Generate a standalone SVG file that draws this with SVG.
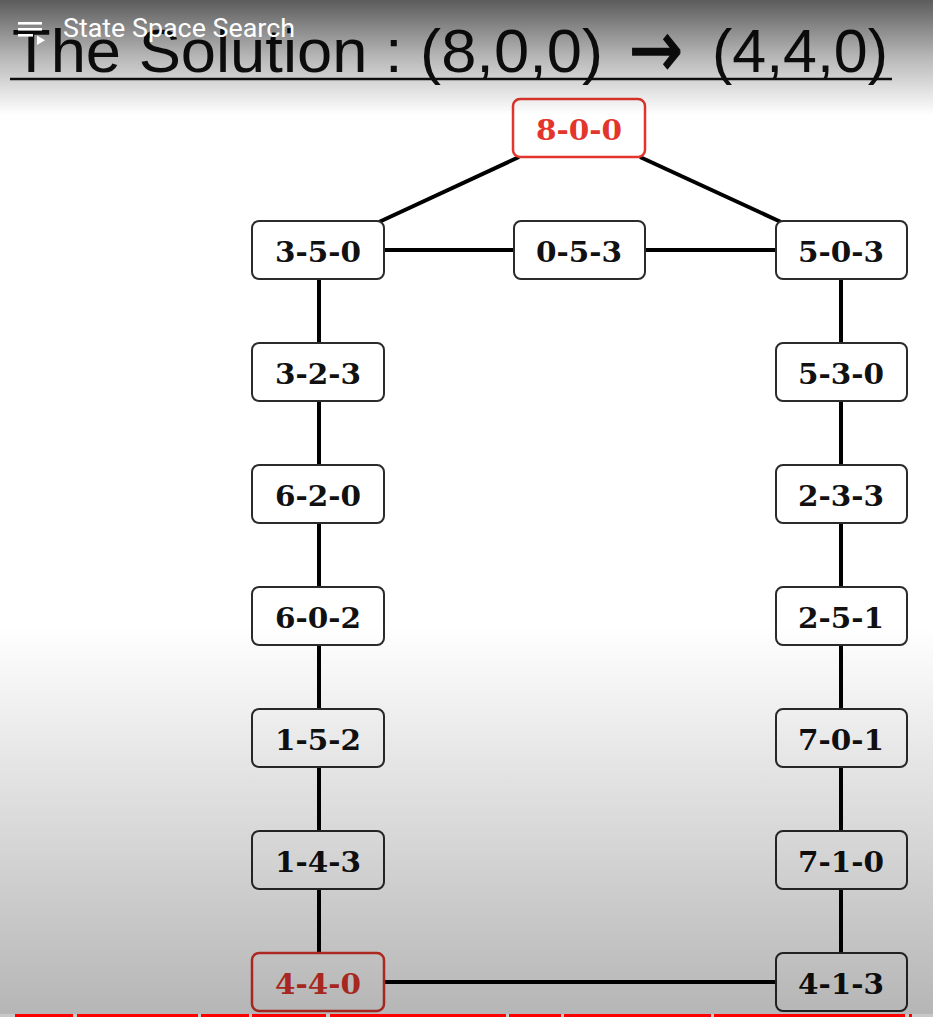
<svg xmlns="http://www.w3.org/2000/svg" width="933" height="1017" viewBox="0 0 933 1017">
<defs>
<linearGradient id="topShade" x1="0" y1="0" x2="0" y2="115" gradientUnits="userSpaceOnUse">
<stop offset="0" stop-color="#000" stop-opacity="0.64"/>
<stop offset="0.5" stop-color="#000" stop-opacity="0.28"/>
<stop offset="1" stop-color="#000" stop-opacity="0"/>
</linearGradient>
<linearGradient id="botShade" x1="0" y1="625" x2="0" y2="1017" gradientUnits="userSpaceOnUse">
<stop offset="0" stop-color="#000" stop-opacity="0"/>
<stop offset="1" stop-color="#000" stop-opacity="0.29"/>
</linearGradient>
<style>
.box{fill:#ffffff;stroke:#2b2b2b;stroke-width:2}
.rbox{fill:#ffffff;stroke:#e3352b;stroke-width:2.5}
.lbl{font-family:"DejaVu Serif",serif;font-weight:bold;font-size:28px;fill:#111;text-anchor:middle}
.rlbl{font-family:"DejaVu Serif",serif;font-weight:bold;font-size:28px;fill:#e3352b;text-anchor:middle}
.edge{stroke:#000;stroke-width:4;fill:none}
.title{font-family:"Liberation Sans",Arial,sans-serif;font-size:62px;fill:#111}
.bar{fill:#ff0000}
</style>
</defs>
<rect x="0" y="0" width="933" height="1017" fill="#ffffff"/>
<g id="title">
<text class="title" x="12" y="72" textLength="591" lengthAdjust="spacingAndGlyphs">The Solution : (8,0,0)</text>
<text x="656" y="77" text-anchor="middle" font-family="&quot;DejaVu Sans&quot;,sans-serif" font-size="80" fill="#111" stroke="#111" stroke-width="1.4" textLength="54" lengthAdjust="spacingAndGlyphs">→</text>
<text class="title" x="712" y="72" textLength="176" lengthAdjust="spacingAndGlyphs">(4,4,0)</text>
<line x1="10" y1="79" x2="892" y2="79" stroke="#111" stroke-width="2.5"/>
</g>
<g id="connectors">
<line class="edge" x1="519" y1="157" x2="379" y2="222"/>
<line class="edge" x1="640" y1="157" x2="781" y2="222"/>
<line class="edge" x1="384" y1="250" x2="514" y2="250"/>
<line class="edge" x1="645" y1="250" x2="776" y2="250"/>
<line class="edge" x1="319" y1="279" x2="319" y2="343"/>
<line class="edge" x1="319" y1="401" x2="319" y2="465"/>
<line class="edge" x1="319" y1="523" x2="319" y2="587"/>
<line class="edge" x1="319" y1="645" x2="319" y2="709"/>
<line class="edge" x1="319" y1="767" x2="319" y2="831"/>
<line class="edge" x1="319" y1="889" x2="319" y2="953"/>
<line class="edge" x1="841" y1="279" x2="841" y2="343"/>
<line class="edge" x1="841" y1="401" x2="841" y2="465"/>
<line class="edge" x1="841" y1="523" x2="841" y2="587"/>
<line class="edge" x1="841" y1="645" x2="841" y2="709"/>
<line class="edge" x1="841" y1="767" x2="841" y2="831"/>
<line class="edge" x1="841" y1="889" x2="841" y2="953"/>
<line class="edge" x1="384" y1="982" x2="776" y2="982"/>
</g>
<g id="n800"><rect class="rbox" x="513" y="99" width="132" height="58" rx="7"/><text class="rlbl" x="579" y="140" textLength="86" lengthAdjust="spacingAndGlyphs">8-0-0</text></g>
<g id="n350"><rect class="box" x="252" y="221" width="132" height="58" rx="7"/><text class="lbl" x="318" y="262" textLength="86" lengthAdjust="spacingAndGlyphs">3-5-0</text></g>
<g id="n053"><rect class="box" x="514" y="221" width="131" height="58" rx="7"/><text class="lbl" x="579" y="262" textLength="86" lengthAdjust="spacingAndGlyphs">0-5-3</text></g>
<g id="n503"><rect class="box" x="776" y="221" width="131" height="58" rx="7"/><text class="lbl" x="841" y="262" textLength="86" lengthAdjust="spacingAndGlyphs">5-0-3</text></g>
<g id="n323"><rect class="box" x="252" y="343" width="132" height="58" rx="7"/><text class="lbl" x="318" y="384" textLength="86" lengthAdjust="spacingAndGlyphs">3-2-3</text></g>
<g id="n620"><rect class="box" x="252" y="465" width="132" height="58" rx="7"/><text class="lbl" x="318" y="506" textLength="86" lengthAdjust="spacingAndGlyphs">6-2-0</text></g>
<g id="n602"><rect class="box" x="252" y="587" width="132" height="58" rx="7"/><text class="lbl" x="318" y="628" textLength="86" lengthAdjust="spacingAndGlyphs">6-0-2</text></g>
<g id="n152"><rect class="box" x="252" y="709" width="132" height="58" rx="7"/><text class="lbl" x="318" y="750" textLength="86" lengthAdjust="spacingAndGlyphs">1-5-2</text></g>
<g id="n143"><rect class="box" x="252" y="831" width="132" height="58" rx="7"/><text class="lbl" x="318" y="872" textLength="86" lengthAdjust="spacingAndGlyphs">1-4-3</text></g>
<g id="n440"><rect class="rbox" x="252" y="953" width="132" height="58" rx="7"/><text class="rlbl" x="318" y="994" textLength="86" lengthAdjust="spacingAndGlyphs">4-4-0</text></g>
<g id="n530"><rect class="box" x="776" y="343" width="131" height="58" rx="7"/><text class="lbl" x="841" y="384" textLength="86" lengthAdjust="spacingAndGlyphs">5-3-0</text></g>
<g id="n233"><rect class="box" x="776" y="465" width="131" height="58" rx="7"/><text class="lbl" x="841" y="506" textLength="86" lengthAdjust="spacingAndGlyphs">2-3-3</text></g>
<g id="n251"><rect class="box" x="776" y="587" width="131" height="58" rx="7"/><text class="lbl" x="841" y="628" textLength="86" lengthAdjust="spacingAndGlyphs">2-5-1</text></g>
<g id="n701"><rect class="box" x="776" y="709" width="131" height="58" rx="7"/><text class="lbl" x="841" y="750" textLength="86" lengthAdjust="spacingAndGlyphs">7-0-1</text></g>
<g id="n710"><rect class="box" x="776" y="831" width="131" height="58" rx="7"/><text class="lbl" x="841" y="872" textLength="86" lengthAdjust="spacingAndGlyphs">7-1-0</text></g>
<g id="n413"><rect class="box" x="776" y="953" width="131" height="58" rx="7"/><text class="lbl" x="841" y="994" textLength="86" lengthAdjust="spacingAndGlyphs">4-1-3</text></g>
<rect x="0" y="0" width="933" height="115" fill="url(#topShade)"/>
<rect x="0" y="625" width="933" height="392" fill="url(#botShade)"/>
<g id="player-ui">
<g fill="#ffffff">
<rect x="18" y="22" width="24" height="2.6"/>
<rect x="18" y="28" width="24" height="2.6"/>
<rect x="18" y="34" width="15" height="2.6"/>
<polygon points="37,35.5 37,45 45,40.2"/>
</g>
<text x="63" y="37" font-family="Roboto,&quot;Liberation Sans&quot;,sans-serif" font-size="26" fill="#ffffff" textLength="232" lengthAdjust="spacingAndGlyphs">State Space Search</text>
<rect x="0" y="1014" width="933" height="3" fill="#ffffff" fill-opacity="0.25"/>
<rect class="bar" x="15" y="1014" width="58" height="3"/>
<rect class="bar" x="77" y="1014" width="121" height="3"/>
<rect class="bar" x="201" y="1014" width="48" height="3"/>
<rect class="bar" x="252" y="1014" width="74" height="3"/>
<rect class="bar" x="330" y="1014" width="176" height="3"/>
<rect class="bar" x="509" y="1014" width="52" height="3"/>
<rect class="bar" x="564" y="1014" width="147" height="3"/>
<rect class="bar" x="714" y="1014" width="191" height="3"/>
<rect class="bar" x="909" y="1014" width="3" height="3"/>
</g>
</svg>
